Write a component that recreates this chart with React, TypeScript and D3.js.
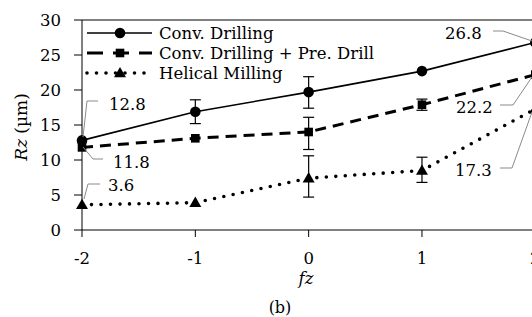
import React from "react";
import * as d3 from "d3";

const fzValues = [-2, -1, 0, 1, 2];
const yTicks = [0, 5, 10, 15, 20, 25, 30];
const seriesNames = ["Conv. Drilling", "Conv. Drilling + Pre. Drill", "Helical Milling"];
const convDrilling = [12.8, 16.9, 19.7, 22.7, 26.8];
const convDrillingErrLo = [null, 15.2, 17.4, null, null];
const convDrillingErrHi = [null, 18.6, 21.9, null, null];
const preDrill = [11.8, 13.1, 14.0, 17.9, 22.2];
const preDrillErrLo = [null, null, 11.5, 17.1, null];
const preDrillErrHi = [null, null, 16.1, 18.7, null];
const helical = [3.6, 3.9, 7.4, 8.5, 17.3];
const helicalErrLo = [null, null, 4.7, 6.8, null];
const helicalErrHi = [null, null, 10.6, 10.4, null];

const W = 532;
const H = 317;
const FONT = "DejaVu Serif, Liberation Serif, Times New Roman, serif";
const FS = 16.5;

export default function App() {
  const x = d3.scaleLinear().domain([-2, 2]).range([82, 535.3]);
  const y = d3.scaleLinear().domain([0, 30]).range([230, 20]);
  const line = d3
    .line<number>()
    .x((_, i) => x(fzValues[i]))
    .y((d) => y(d));

  const series = [
    { name: seriesNames[0], vals: convDrilling, lo: convDrillingErrLo, hi: convDrillingErrHi, dash: "none", width: 1.6, marker: "circle", cap: "butt" },
    { name: seriesNames[1], vals: preDrill, lo: preDrillErrLo, hi: preDrillErrHi, dash: "11 7", width: 3, marker: "square", cap: "butt" },
    { name: seriesNames[2], vals: helical, lo: helicalErrLo, hi: helicalErrHi, dash: "0 9.5", width: 3.6, marker: "triangle", cap: "round" },
  ];

  const marker = (type: string, cx: number, cy: number, key: string) => {
    if (type === "circle") return <circle key={key} cx={cx} cy={cy} r={5.3} fill="#000" />;
    if (type === "square") return <rect key={key} x={cx - 4.3} y={cy - 4.3} width={8.6} height={8.6} fill="#000" />;
    const s = d3.symbol().type(d3.symbolTriangle).size(62)();
    return <path key={key} d={s || ""} transform={`translate(${cx},${cy + 0.8})`} fill="#000" />;
  };

  const T = (props: { x: number; y: number; anchor?: string; size?: number; italic?: boolean; children: any }) => (
    <text x={props.x} y={props.y} dy="0.35em" textAnchor={props.anchor || "start"} fontSize={props.size || FS} fontStyle={props.italic ? "italic" : undefined} fontFamily={FONT}>
      {props.children}
    </text>
  );

  const labels = [
    { text: "12.8", tx: 109, ty: 104, pts: [[83, 137], [87, 101], [98, 101]] },
    { text: "11.8", tx: 113, ty: 162, pts: [[83, 147], [93, 159], [103, 159]] },
    { text: "3.6", tx: 108, ty: 185, pts: [[84, 199], [88, 184], [100, 184]] },
    { text: "26.8", tx: 445, ty: 33, pts: [[493, 31], [503, 31], [532, 41]] },
    { text: "22.2", tx: 456, ty: 107, pts: [[500, 105], [513, 105], [532, 77]] },
    { text: "17.3", tx: 455, ty: 170, pts: [[500, 168], [512, 168], [532, 112]] },
  ];

  return (
    <svg width={W} height={H} style={{ position: "absolute", left: 0, top: 0, background: "#fff" }}>
      <rect x={0} y={0} width={W} height={H} fill="#fff" />
      {/* axes */}
      <line x1={x(-2)} x2={x(-2)} y1={y(0)} y2={y(30)} stroke="#000" strokeWidth={1} />
      <line x1={x(-2)} x2={W + 10} y1={y(0)} y2={y(0)} stroke="#000" strokeWidth={1} />
      <line x1={x(-2)} x2={W + 10} y1={y(30)} y2={y(30)} stroke="#000" strokeWidth={1} />
      {yTicks.map((t) => (
        <g key={"yt" + t}>
          <line x1={x(-2) - 8} x2={x(-2)} y1={y(t)} y2={y(t)} stroke="#000" />
          <T x={61} y={y(t)} anchor="end">{t}</T>
        </g>
      ))}
      {fzValues.map((t) => (
        <g key={"xt" + t}>
          <line x1={x(t)} x2={x(t)} y1={y(0)} y2={y(0) + 7} stroke="#000" />
          <T x={x(t)} y={258} anchor="middle">{t}</T>
        </g>
      ))}
      <T x={306} y={278} anchor="middle" italic>fz</T>
      <T x={280} y={307} anchor="middle" size={16}>(b)</T>
      <g transform={`translate(21,127) rotate(-90)`}>
        <text x={0} y={0} dy="0.35em" textAnchor="middle" fontSize={17} fontFamily={FONT}>
          <tspan fontStyle="italic">Rz</tspan> (µm)
        </text>
      </g>

      {/* legend */}
      {series.map((s, k) => {
        const ly = 33 + k * 20;
        return (
          <g key={"lg" + k}>
            <line x1={87} x2={152} y1={ly} y2={ly} stroke="#000" strokeWidth={s.width} strokeDasharray={s.dash === "none" ? undefined : k === 1 ? "16 10" : s.dash} strokeLinecap={s.cap as any} />
            {marker(s.marker, 120, ly, "lm" + k)}
            <T x={159} y={ly}>{s.name}</T>
          </g>
        );
      })}

      {/* error bars */}
      {series.map((s, k) =>
        s.vals.map((v, i) => {
          const lo = s.lo[i];
          const hi = s.hi[i];
          if (lo == null || hi == null) return null;
          const cx = x(fzValues[i]);
          return (
            <g key={`eb${k}-${i}`} stroke="#000" strokeWidth={1.2}>
              <line x1={cx} x2={cx} y1={y(lo)} y2={y(hi)} />
              <line x1={cx - 5.5} x2={cx + 5.5} y1={y(lo)} y2={y(lo)} />
              <line x1={cx - 5.5} x2={cx + 5.5} y1={y(hi)} y2={y(hi)} />
            </g>
          );
        })
      )}

      {/* lines */}
      {series.map((s, k) => (
        <path key={"ln" + k} d={line(s.vals) || ""} fill="none" stroke="#000" strokeWidth={s.width} strokeDasharray={s.dash === "none" ? undefined : s.dash} strokeLinecap={s.cap as any} />
      ))}
      {series.map((s, k) => s.vals.map((v, i) => marker(s.marker, x(fzValues[i]), y(v), `m${k}-${i}`)))}

      {/* data labels */}
      {labels.map((l, k) => (
        <g key={"dl" + k}>
          <polyline points={l.pts.map((p) => p.join(",")).join(" ")} fill="none" stroke="#8a8a8a" strokeWidth={1} />
          <T x={l.tx} y={l.ty}>{l.text}</T>
        </g>
      ))}
    </svg>
  );
}
